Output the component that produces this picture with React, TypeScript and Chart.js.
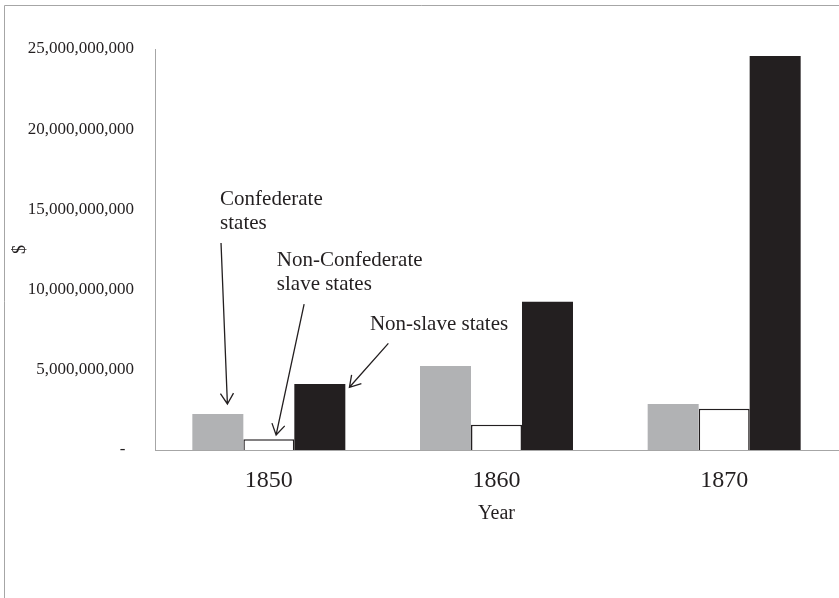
import React, { useEffect, useRef } from 'react';
import { Chart, registerables } from 'chart.js';

Chart.register(...registerables);

// ---- data ----
const years = ['1850', '1860', '1870'];
const confederateStates = [2.24e9, 5.24e9, 2.87e9];
const nonConfederateSlaveStates = [0.67e9, 1.58e9, 2.57e9];
const nonSlaveStates = [4.11e9, 9.25e9, 24.56e9];
const yTickMax = 25e9;
const yTickStep = 5e9;
const yAxisTitle = '$';
const xAxisTitle = 'Year';

// ---- styling / layout ----
const FONT = '"Liberation Serif", "Times New Roman", serif';
const AXIS_GRAY = '#a6a6a6';
const BAR_GRAY = '#b1b2b4';
const BAR_BLACK = '#231f20';

// annotation labels: x as category index, y as value (scale space)
const annotations = [
  {
    lines: ['Confederate', 'states'],
    textX: -0.214, textY: 15.27e9,
    from: [-0.21, 12.9e9], to: [-0.182, 2.87e9],
  },
  {
    lines: ['Non-Confederate', 'slave states'],
    textX: 0.035, textY: 11.47e9,
    from: [0.155, 9.1e9], to: [0.032, 0.94e9],
  },
  {
    lines: ['Non-slave states'],
    textX: 0.444, textY: 7.48e9,
    from: [0.525, 6.65e9], to: [0.354, 3.91e9],
  },
];

const annotationPlugin = {
  id: 'arrowAnnotations',
  beforeDraw(chart: any) {
    const { ctx, width, height } = chart;
    ctx.save();
    ctx.fillStyle = '#ffffff';
    ctx.fillRect(0, 0, width, height);
    ctx.strokeStyle = AXIS_GRAY;
    ctx.lineWidth = 1;
    ctx.beginPath();
    ctx.moveTo(4.5, height);
    ctx.lineTo(4.5, 5.5);
    ctx.lineTo(width, 5.5);
    ctx.stroke();
    ctx.restore();
  },
  afterDraw(chart: any) {
    const { ctx } = chart;
    const xs = chart.scales.x;
    const ys = chart.scales.y;
    ctx.save();
    ctx.fillStyle = '#231f20';
    ctx.strokeStyle = '#231f20';
    ctx.font = `21px ${FONT}`;
    ctx.textAlign = 'left';
    ctx.textBaseline = 'alphabetic';
    annotations.forEach((a) => {
      const tx = xs.getPixelForValue(a.textX);
      const ty = ys.getPixelForValue(a.textY);
      a.lines.forEach((line, i) => ctx.fillText(line, tx, ty + i * 23.5));
      const x1 = xs.getPixelForValue(a.from[0]);
      const y1 = ys.getPixelForValue(a.from[1]);
      const x2 = xs.getPixelForValue(a.to[0]);
      const y2 = ys.getPixelForValue(a.to[1]);
      ctx.lineWidth = 1.3;
      ctx.beginPath();
      ctx.moveTo(x1, y1);
      ctx.lineTo(x2, y2);
      const ang = Math.atan2(y2 - y1, x2 - x1);
      const len = 12.5;
      const spread = 0.55;
      ctx.moveTo(x2 - len * Math.cos(ang - spread), y2 - len * Math.sin(ang - spread));
      ctx.lineTo(x2, y2);
      ctx.lineTo(x2 - len * Math.cos(ang + spread), y2 - len * Math.sin(ang + spread));
      ctx.stroke();
    });
    ctx.restore();
  },
};

export default function App() {
  const ref = useRef<HTMLCanvasElement | null>(null);

  useEffect(() => {
    if (!ref.current) return;
    const chart = new Chart(ref.current, {
      type: 'bar',
      data: {
        labels: years,
        datasets: [
          {
            label: 'Confederate states',
            data: confederateStates,
            backgroundColor: BAR_GRAY,
            borderWidth: 0,
          },
          {
            label: 'Non-Confederate slave states',
            data: nonConfederateSlaveStates,
            backgroundColor: '#ffffff',
            borderColor: BAR_BLACK,
            borderWidth: 1.5,
          },
          {
            label: 'Non-slave states',
            data: nonSlaveStates,
            backgroundColor: BAR_BLACK,
            borderWidth: 0,
          },
        ],
      },
      options: {
        responsive: false,
        animation: false,
        devicePixelRatio: 1,
        categoryPercentage: 0.672,
        barPercentage: 1,
        layout: { padding: { left: 0, top: 49, right: 1, bottom: 0 } },
        plugins: {
          legend: { display: false },
          tooltip: { enabled: false },
          title: { display: false },
        },
        scales: {
          x: {
            grid: { display: false, drawTicks: false },
            border: { display: true, color: AXIS_GRAY, width: 1 },
            ticks: {
              color: '#231f20',
              font: { family: FONT, size: 24 },
              padding: 16,
            },
            title: {
              display: true,
              text: xAxisTitle,
              color: '#231f20',
              font: { family: FONT, size: 20 },
              padding: { top: 0, bottom: 72 },
            },
            afterFit(scale: any) {
              scale.height = 148;
            },
          },
          y: {
            min: 0,
            max: yTickMax,
            grid: { display: false, drawTicks: false },
            border: { display: true, color: AXIS_GRAY, width: 1 },
            ticks: {
              stepSize: yTickStep,
              color: '#231f20',
              font: { family: FONT, size: 17 },
              padding: 21,
              callback: (v: any) => (Number(v) === 0 ? '-  ' : Number(v).toLocaleString('en-US')),
            },
            title: {
              display: true,
              text: yAxisTitle,
              color: '#231f20',
              font: { family: FONT, size: 18 },
              padding: { top: 9, bottom: 0 },
            },
            afterFit(scale: any) {
              scale.width = 155;
            },
          },
        },
      },
      plugins: [annotationPlugin],
    });
    return () => chart.destroy();
  }, []);

  return (
    <div style={{ position: 'fixed', left: 0, top: 0, width: 839, height: 598, background: '#fff' }}>
      <canvas ref={ref} width={839} height={598} style={{ width: 839, height: 598, display: 'block' }} />
    </div>
  );
}
